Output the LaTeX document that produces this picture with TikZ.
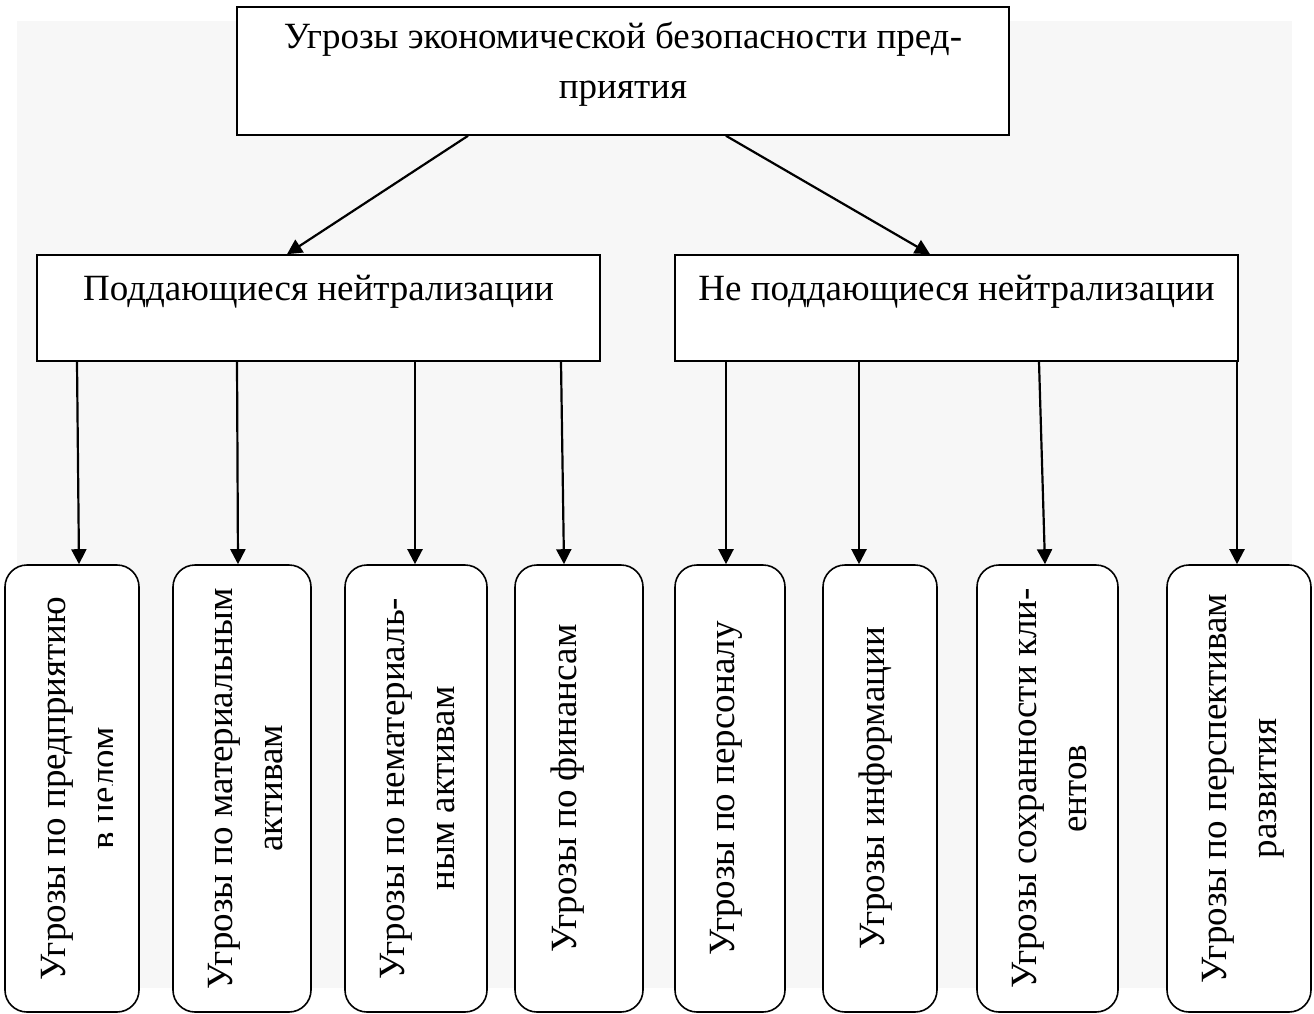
\documentclass[tikz,border=0pt]{standalone}
\usepackage{fontspec}
\setmainfont{Liberation Serif}
\usetikzlibrary{arrows.meta, positioning}

\tikzset{
	frame/.style={draw, line width=1.6pt, fill=white, inner sep=0pt},
	rframe/.style={frame, rounded corners=22pt},
	txt/.style={inner sep=0pt, align=center, font=\fontsize{37}{50}\selectfont},
	arr/.style={line width=2.2pt, -{Triangle[length=15pt, width=15pt]}},
}

\begin{document}
\begin{tikzpicture}[x=1pt, y=-1pt]
		\useasboundingbox (0,0) rectangle (1314,1014);
		%%%	Sfondo
		\fill[black!3] (17,21) rectangle (1292,988);
		
		%%% Blocchi
		\node[frame, minimum width=772pt, minimum height=128pt] (top) at (623,71) {};
		\node[txt, anchor=north] (toptxt) at ([yshift=-16pt]top.north) {Угрозы экономической безопасности пред-\\приятия};
		\node[frame, txt, minimum width=563pt, text height=45pt, text depth=61pt] (nl) at (318.5,308) {Поддающиеся нейтрализации};
		\node[frame, txt, minimum width=563pt, text height=45pt, text depth=61pt] (nr) at (956.5,308) {Не поддающиеся нейтрализации};
		
		%%% Riquadri in basso
		\foreach \n/\c/\w in {1/72/134, 2/242/138, 3/416/142, 4/579/128, 5/730/110, 6/880/114, 7/1047.5/141, 8/1239/144}
		\node[rframe, minimum width=\w, minimum height=447pt] (s\n) at (\c,788.5) {};
		
		\begin{scope}
			\clip (s1.north west) rectangle ([xshift=-27pt]s1.south east);	% testo tagliato
			\node[txt, rotate=90, anchor=north] (t1) at ([xshift=37pt]s1.west) {Угрозы по предприятию\\в целом};
		\end{scope}
		\foreach \n/\t in {2/{Угрозы по материальным\\активам}, 3/{Угрозы по нематериаль-\\ным активам}, 4/{Угрозы по финансам}, 5/{Угрозы по персоналу}, 6/{Угрозы информации}, 7/{Угрозы сохранности кли-\\ентов}, 8/{Угрозы по перспективам\\развития}}
		\node[txt, rotate=90, anchor=north] (t\n) at ([xshift=36pt]s\n.west) {\t};
		
		%%% Frecce
		\draw[arr] ([xshift=-155pt]top.south) -- ([xshift=-31.5pt]nl.north);
		\draw[arr] ([xshift=103pt]top.south) -- ([xshift=-26.5pt]nr.north);
		\foreach \s/\a/\b in {1/-241.5/7, 2/-81.5/-4, 3/96.5/-1, 4/242.5/-15}
		\draw[arr] ([xshift=\a pt]nl.south) -- ([xshift=\b pt]s\s.north);
		\foreach \s/\a/\b in {5/-230.5/-4, 6/-97.5/-21, 7/82.5/-2.5, 8/280.5/-2}
		\draw[arr] ([xshift=\a pt]nr.south) -- ([xshift=\b pt]s\s.north);
	\end{tikzpicture}
\end{document}
